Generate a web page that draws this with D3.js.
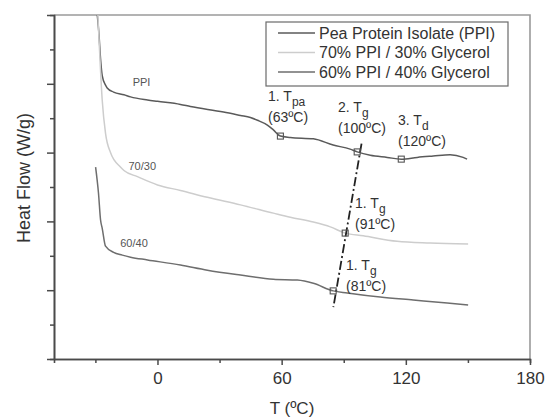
<!DOCTYPE html>
<html>
<head>
<meta charset="utf-8">
<script src="https://cdn.jsdelivr.net/npm/d3@7"></script>
<style>
  body { margin: 0; background: #fff; }
  text { font-family: "Liberation Sans", Arial, sans-serif; }
</style>
</head>
<body>
<svg id="chart" width="546" height="420"></svg>
<script>
// temperature (ºC) and heat flow (arbitrary units, no labels on axis)
var ppi = [
  [-29.1, 5.0], [-28.3, 4.73], [-27.5, 4.36], [-26.7, 4.12], [-25.1, 3.98],
  [-24.3, 3.94], [-21.2, 3.88], [-16.2, 3.84], [-13.0, 3.81], [-4.8, 3.765],
  [0, 3.745], [11.1, 3.70], [15.9, 3.67], [31.9, 3.59], [40.1, 3.54],
  [44.9, 3.51], [48.3, 3.47], [53.1, 3.40], [56.0, 3.33], [59.4, 3.24],
  [64.2, 3.22], [75.3, 3.20], [84.9, 3.11], [93.1, 3.05], [96.5, 3.01],
  [102.8, 2.96], [111.0, 2.93], [117.8, 2.905], [125.5, 2.93], [133.2, 2.95],
  [141.4, 2.97], [147.7, 2.93], [149.6, 2.905]
];
var ppi7030 = [
  [-28.8, 5.0], [-28.0, 4.49], [-26.7, 3.76], [-25.1, 3.28], [-22.7, 3.0],
  [-17.9, 2.79], [-16.2, 2.74], [-9.7, 2.65], [0, 2.53], [11.1, 2.45],
  [24.1, 2.35], [40.1, 2.24], [56.0, 2.12], [64.2, 2.06], [75.3, 1.99],
  [83.5, 1.92], [90.7, 1.83], [99.4, 1.79], [115.8, 1.71], [131.8, 1.685],
  [150.1, 1.67]
];
var ppi6040 = [
  [-29.9, 2.79], [-28.5, 2.41], [-27.5, 2.02], [-26.7, 1.90], [-25.1, 1.64],
  [-21.2, 1.55], [-17.0, 1.51], [-13.0, 1.48], [-4.8, 1.44], [11.1, 1.365],
  [24.1, 1.29], [40.1, 1.22], [56.0, 1.16], [67.6, 1.147], [75.3, 1.10],
  [84.9, 0.99], [91.7, 0.96], [107.6, 0.90], [123.6, 0.857], [140.0, 0.813],
  [150.1, 0.784]
];

var seriesNames = ['Pea Protein Isolate (PPI)', '70% PPI / 30% Glycerol', '60% PPI / 40% Glycerol'];
var seriesData = [ppi, ppi7030, ppi6040];
var seriesColors = ['#5a5a5a', '#cdcdcd', '#6e6e6e'];
var curveLabels = [['PPI', -12, 3.97], ['70/30', -14, 2.75], ['60/40', -18, 1.63]];

// transition markers: [T, heat flow, line1 main, line1 sub, line2]
var markers = [
  [59.4, 3.24, '1. T', 'pa', '(63ºC)'],
  [96.5, 3.01, '2. T', 'g', '(100ºC)'],
  [117.8, 2.905, '3. T', 'd', '(120ºC)'],
  [90.7, 1.83, '1. T', 'g', '(91ºC)'],
  [84.9, 0.99, '1. T', 'g', '(81ºC)']
];
var tgLine = [[98.6, 3.13], [85.0, 0.755]];

var xMajor = [0, 60, 120, 180];
var xMinor = [-30, 30, 90, 150];
var yMajor = [0, 1, 2, 3, 4, 5];
var yMinor = [0.5, 1.5, 2.5, 3.5, 4.5];

var plotL = 54, plotR = 530, plotT = 15, plotB = 359;
var svg = d3.select('#chart');

var x = d3.scaleLinear().domain([-50, 180]).range([plotL, plotR]);
var y = d3.scaleLinear().domain([0, 5]).range([plotB, plotT]);

svg.append('defs').append('clipPath').attr('id', 'plot-clip')
  .append('rect')
  .attr('x', plotL).attr('y', plotT)
  .attr('width', plotR - plotL).attr('height', plotB - plotT);

// frame top and right
svg.append('path')
  .attr('d', 'M' + plotL + ',' + plotT + 'H' + plotR + 'V' + plotB)
  .attr('fill', 'none')
  .attr('stroke', '#9a9a9a')
  .attr('stroke-width', 1.6);

// axes
function styleAxis(g) {
  g.select('.domain').attr('stroke', '#4a4a4a').attr('stroke-width', 1.6);
  g.selectAll('.tick line').attr('stroke', '#4a4a4a').attr('stroke-width', 1.5);
}

svg.append('g')
  .attr('transform', 'translate(0,' + plotB + ')')
  .call(d3.axisBottom(x).tickValues(xMinor).tickSize(4).tickFormat(''))
  .call(styleAxis);

svg.append('g')
  .attr('transform', 'translate(0,' + plotB + ')')
  .call(d3.axisBottom(x).tickValues(xMajor).tickSize(6).tickPadding(7).tickSizeOuter(0))
  .call(styleAxis)
  .selectAll('text')
  .attr('fill', '#333')
  .style('font-size', '17px');

svg.append('g')
  .attr('transform', 'translate(' + plotL + ',0)')
  .call(d3.axisLeft(y).tickValues(yMinor).tickSize(4).tickFormat(''))
  .call(styleAxis);

svg.append('g')
  .attr('transform', 'translate(' + plotL + ',0)')
  .call(d3.axisLeft(y).tickValues(yMajor).tickSize(7).tickFormat('').tickSizeOuter(0))
  .call(styleAxis);

svg.append('text')
  .attr('x', 292).attr('y', 414)
  .attr('text-anchor', 'middle')
  .attr('fill', '#333')
  .style('font-size', '17px')
  .text('T (ºC)');

svg.append('text')
  .attr('transform', 'translate(30,' + 178 + ') rotate(-90)')
  .attr('text-anchor', 'middle')
  .attr('fill', '#333')
  .style('font-size', '18px')
  .text('Heat Flow (W/g)');

// curves
var line = d3.line()
  .x(function(d) { return x(d[0]); })
  .y(function(d) { return y(d[1]); })
  .curve(d3.curveMonotoneX);

svg.append('g')
  .attr('clip-path', 'url(#plot-clip)')
  .selectAll('path.curve')
  .data(seriesData)
  .enter().append('path')
  .attr('class', 'curve')
  .attr('d', line)
  .attr('fill', 'none')
  .attr('stroke', function(d, i) { return seriesColors[i]; })
  .attr('stroke-width', 1.5);

svg.selectAll('text.curve-label')
  .data(curveLabels)
  .enter().append('text')
  .attr('class', 'curve-label')
  .attr('x', function(d) { return x(d[1]); })
  .attr('y', function(d) { return y(d[2]); })
  .attr('fill', '#555')
  .style('font-size', '11px')
  .text(function(d) { return d[0]; });

// dash-dot Tg guide
svg.append('path')
  .attr('d', d3.line().x(function(d) { return x(d[0]); }).y(function(d) { return y(d[1]); })(tgLine))
  .attr('stroke', '#222')
  .attr('stroke-width', 1.8)
  .attr('stroke-dasharray', '9,3,2,3');

// markers and annotations
svg.selectAll('rect.marker')
  .data(markers)
  .enter().append('rect')
  .attr('class', 'marker')
  .attr('x', function(d) { return x(d[0]) - 3; })
  .attr('y', function(d) { return y(d[1]) - 3; })
  .attr('width', 6).attr('height', 6)
  .attr('fill', 'none')
  .attr('stroke', '#555')
  .attr('stroke-width', 1.1);

var labelPos = [[268, 101], [338, 112], [398, 125], [355, 208], [346, 270]];

var ann = svg.selectAll('g.ann')
  .data(markers)
  .enter().append('g')
  .attr('class', 'ann')
  .attr('transform', function(d, i) { return 'translate(' + labelPos[i][0] + ',' + labelPos[i][1] + ')'; })
  .attr('fill', '#333')
  .style('font-size', '14px');

var first = ann.append('text');
first.append('tspan').text(function(d) { return d[2]; });
first.append('tspan')
  .attr('dy', 5)
  .style('font-size', '12px')
  .text(function(d) { return d[3]; });

ann.append('text')
  .attr('y', 21)
  .text(function(d) { return d[4]; });

// legend
var legend = svg.append('g').attr('transform', 'translate(266,22)');
legend.append('rect')
  .attr('width', 242).attr('height', 64)
  .attr('fill', '#fff')
  .attr('stroke', '#6a6a6a')
  .attr('stroke-width', 1.2);

var rows = legend.selectAll('g.row')
  .data(seriesNames)
  .enter().append('g')
  .attr('class', 'row')
  .attr('transform', function(d, i) { return 'translate(0,' + (11 + i * 19.5) + ')'; });

rows.append('line')
  .attr('x1', 12).attr('x2', 49)
  .attr('stroke', function(d, i) { return seriesColors[i]; })
  .attr('stroke-width', 1.5);

rows.append('text')
  .attr('x', 53).attr('dy', '0.35em')
  .attr('fill', '#333')
  .style('font-size', '16px')
  .text(function(d) { return d; });
</script>
</body>
</html>
